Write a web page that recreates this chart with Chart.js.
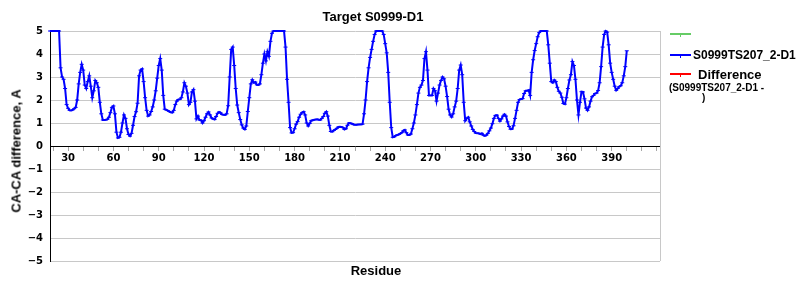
<!DOCTYPE html>
<html>
<head>
<meta charset="utf-8">
<script src="https://cdn.jsdelivr.net/npm/chart.js@4.4.1/dist/chart.umd.min.js"></script>
<style>
    body { margin: 0; background: #ffffff; }
    #wrap { position: relative; width: 800px; height: 300px; font-family: "Liberation Sans", Arial, sans-serif; font-weight: bold; color: #000; }
    #wrap canvas { position: absolute; left: 0; top: 0; }
    .txt { position: absolute; white-space: nowrap; line-height: 1; }
    .mid { transform: translate(-50%, -50%); }
    .sample { position: absolute; width: 21px; height: 2px; }
    .sample i { position: absolute; left: 10px; top: 1px; width: 1px; height: 3px; }
</style>
</head>
<body>
<div id="wrap">
    <canvas id="chart" width="800" height="300"></canvas>
    <div class="txt mid" style="left:373px;top:16px;font-size:13px;">Target S0999-D1</div>
    <div class="txt mid" style="left:376px;top:270px;font-size:13px;">Residue</div>
    <div class="txt mid" style="left:16px;top:151px;font-size:13px;transform:translate(-50%,-50%) rotate(-90deg);">CA-CA difference, A</div>

    <div class="sample" style="left:670px;top:33px;background:#66cc66;"><i style="background:#66cc66"></i></div>
    <div class="sample" style="left:670px;top:54px;background:#0000ff;"><i style="background:#0000ff"></i></div>
    <div class="txt" style="left:693px;top:49px;font-size:12px;">S0999TS207_2-D1</div>
    <div class="sample" style="left:670px;top:73px;background:#ff0000;"><i style="background:#ff0000"></i></div>
    <div class="txt" style="left:698px;top:68px;font-size:13px;">Difference</div>
    <div class="txt" style="left:669px;top:83px;font-size:10px;">(S0999TS207_2-D1 -</div>
    <div class="txt" style="left:702px;top:93px;font-size:10px;">)</div>
</div>
<script>
"use strict";

// first residue of the model, values follow one per residue
const firstResidue = 18;
const modelValues = [
    5, 5, 5, 5, 5, 5, 5,
    3.4, 3.0, 2.9, 2.5, 1.8, 1.64, 1.55, 1.54, 1.57, 1.62,
    1.68, 2.0, 2.7, 3.2, 3.55, 3.3, 2.65, 2.5, 2.8, 3.05,
    2.6, 2.1, 2.4, 2.85, 2.75, 2.55, 1.9, 1.4, 1.13, 1.13,
    1.14, 1.16, 1.25, 1.45, 1.68, 1.74, 1.4, 0.6, 0.35, 0.38,
    0.6, 1.0, 1.35, 1.2, 0.75, 0.5, 0.43, 0.55, 0.9, 1.28,
    1.49, 1.86, 3.05, 3.3, 3.35, 2.8, 2.1, 1.55, 1.3, 1.35,
    1.5, 1.7, 2.0, 2.4, 2.95, 3.5, 3.8, 3.3, 2.2, 1.6,
    1.57, 1.54, 1.5, 1.47, 1.45, 1.55, 1.8, 1.95, 2.02, 2.03,
    2.1, 2.35, 2.75, 2.6, 2.3, 1.8, 1.9, 2.35, 2.45, 1.95,
    1.18, 1.3, 1.13, 1.12, 1.0, 1.1, 1.25, 1.4, 1.48, 1.35,
    1.22, 1.18, 1.15, 1.28, 1.42, 1.48, 1.44, 1.37, 1.36, 1.35,
    1.4, 1.75, 3.0, 4.2, 4.3, 3.5, 2.5, 1.78, 1.45, 1.15,
    0.92, 0.78, 0.72, 0.87, 1.5, 2.1, 2.7, 2.88, 2.75, 2.78,
    2.66, 2.65, 2.7, 3.1, 3.6, 4.0, 3.7, 4.1, 3.9, 4.55,
    4.9, 5, 5, 5, 5, 5, 5, 5, 5, 4.3,
    2.9, 1.9, 0.8, 0.57, 0.58, 0.75, 0.95, 1.06, 1.25, 1.38,
    1.45, 1.49, 1.35, 1.0, 0.87, 0.98, 1.1, 1.12, 1.14, 1.15,
    1.16, 1.14, 1.13, 1.2, 1.28, 1.42, 1.49, 1.3, 0.9, 0.63,
    0.62, 0.68, 0.72, 0.77, 0.83, 0.84, 0.83, 0.8, 0.72, 0.75,
    0.9, 1.0, 0.99, 0.97, 0.93, 0.92, 0.92, 0.93, 0.94, 0.94,
    0.95, 1.4, 2.0, 2.8, 3.4, 3.85, 4.2, 4.55, 4.85, 5,
    5, 5, 5, 5, 4.85, 4.45, 4.05, 3.2, 1.9, 0.8,
    0.38, 0.4, 0.45, 0.48, 0.5, 0.54, 0.58, 0.66, 0.7, 0.58,
    0.48, 0.48, 0.52, 0.75, 1.0, 1.35, 1.8, 2.3, 2.55, 2.65,
    2.85, 3.8, 4.1, 3.3, 2.2, 2.2, 2.2, 2.5, 2.4, 1.95,
    2.3, 2.65, 2.85, 3.0, 2.92, 2.6, 2.15, 1.6, 1.35, 1.26,
    1.4, 1.7, 1.95, 2.5, 3.3, 3.52, 3.1, 1.9, 1.1, 1.2,
    1.25, 1.05, 0.87, 0.72, 0.63, 0.56, 0.55, 0.55, 0.52, 0.55,
    0.47, 0.44, 0.47, 0.55, 0.66, 0.78, 0.97, 1.2, 1.33, 1.34,
    1.2, 1.08, 1.18, 1.3, 1.38, 1.3, 1.05, 0.85, 0.73, 0.74,
    0.88, 1.2, 1.55, 1.9, 2.02, 2.04, 2.06, 2.28, 2.4, 2.4,
    2.43, 2.2, 3.2, 3.75, 4.15, 4.45, 4.75, 4.93, 5, 5,
    5, 5, 5, 4.4, 3.6, 2.8, 2.75, 2.87, 2.8, 2.55,
    2.38, 2.3, 2.12, 1.85, 1.82, 2.1, 2.5, 2.87, 3.1, 3.67,
    3.5, 2.9, 2.0, 1.35, 1.9, 2.36, 2.35, 2.05, 1.65, 1.55,
    1.7, 1.95, 2.14, 2.2, 2.28, 2.3, 2.41, 2.75, 3.45, 4.3,
    4.85, 5, 4.95, 4.4, 3.6, 3.2, 2.9, 2.6, 2.42, 2.5,
    2.58, 2.62, 2.75, 3.05, 3.45, 4.14
];
const firstModelValues = [];   // green series, nothing drawn in the picture
const differenceValues = [];   // red series, nothing drawn in the picture

const xTickMarks = [20, 30, 40, 50, 60, 70, 80, 90, 100, 110, 120, 130, 140, 150, 160, 170, 180, 190, 200,
    210, 220, 230, 240, 250, 260, 270, 280, 290, 300, 310, 320, 330, 340, 350, 360, 370, 380, 390, 400, 410, 420];
const xTickLabels = [30, 60, 90, 120, 150, 180, 210, 240, 270, 300, 330, 360, 390];
const yTickLabels = [5, 4, 3, 2, 1, 0, -1, -2, -3, -4, -5];

const modelPoints = modelValues.map((v, i) => ({ x: firstResidue + i, y: v }));

const tickFont = { family: "'DejaVu Sans', Verdana, sans-serif", size: 10, weight: 'bold' };

// grey right edge of the plot
const frame = {
    id: 'frame',
    beforeDatasetsDraw(chart) {
        const { ctx, chartArea } = chart;
        ctx.save();
        ctx.strokeStyle = '#c8c8c8';
        ctx.lineWidth = 1;
        ctx.beginPath();
        ctx.moveTo(Math.round(chartArea.right) + 0.5, chartArea.top);
        ctx.lineTo(Math.round(chartArea.right) + 0.5, chartArea.bottom);
        ctx.stroke();
        ctx.restore();
    }
};

new Chart(document.getElementById('chart'), {
    type: 'line',
    data: {
        datasets: [{
            label: '',
            data: firstModelValues,
            borderColor: '#66cc66',
            backgroundColor: '#66cc66'
        }, {
            label: 'S0999TS207_2-D1',
            data: modelPoints,
            borderColor: '#0000ff',
            backgroundColor: '#0000ff',
            borderWidth: 2,
            tension: 0,
            pointStyle: 'line',
            pointRadius: 2,
            pointBorderWidth: 1,
            pointBorderColor: '#0000ff',
            clip: false
        }, {
            label: 'Difference (S0999TS207_2-D1 - )',
            data: differenceValues,
            borderColor: '#ff0000',
            backgroundColor: '#ff0000'
        }]
    },
    options: {
        responsive: false,
        animation: false,
        layout: { padding: { left: 0, top: 31, right: 140, bottom: 39 } },
        plugins: {
            legend: { display: false },
            tooltip: { enabled: false }
        },
        scales: {
            x: {
                type: 'linear',
                position: { y: 0 },
                min: 18,
                max: 422,
                afterBuildTicks: (scale) => {
                    scale.ticks = xTickMarks.map(v => ({ value: v }));
                },
                ticks: {
                    autoSkip: false,
                    maxRotation: 0,
                    padding: 2,
                    color: '#000000',
                    font: tickFont,
                    callback: (value) => xTickLabels.includes(value) ? String(value) : ''
                },
                grid: {
                    drawOnChartArea: false,
                    drawTicks: true,
                    tickLength: 4,
                    color: '#a8a8a8'
                },
                border: { display: true, color: '#000000', width: 1 }
            },
            y: {
                min: -5,
                max: 5,
                afterFit: (scale) => { scale.width = 50; },
                afterBuildTicks: (scale) => {
                    scale.ticks = yTickLabels.map(v => ({ value: v }));
                },
                ticks: {
                    padding: 7,
                    color: '#000000',
                    font: tickFont,
                    callback: (value) => value < 0 ? '\u2212' + Math.abs(value) : String(value)
                },
                grid: {
                    drawTicks: false,
                    color: '#c8c8c8'
                },
                border: { display: true, color: '#000000', width: 1 }
            }
        }
    },
    plugins: [frame]
});
</script>
</body>
</html>
